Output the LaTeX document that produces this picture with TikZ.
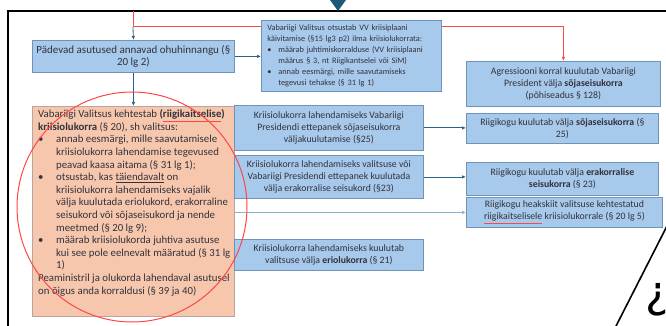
\documentclass[tikz,border=0pt]{standalone}
\usepackage{fontspec}
\setmainfont{Carlito}
\newfontfamily\djv{DejaVu Sans}
\usetikzlibrary{arrows.meta}
\definecolor{boxblue}{RGB}{167,201,235}
\definecolor{boxborder}{RGB}{110,148,186}
\definecolor{boxorange}{RGB}{247,199,173}
\definecolor{oborder}{RGB}{185,165,160}
\definecolor{arrteal}{RGB}{40,100,135}
\definecolor{lightteal}{RGB}{140,180,205}
\definecolor{redline}{RGB}{255,70,70}
\definecolor{txt}{RGB}{50,50,60}
\definecolor{tri}{RGB}{30,90,120}
\newcommand{\redul}[1]{\textcolor{redline}{\underline{\textcolor{txt}{#1}}}}
\newcommand{\bul}[1]{\makebox[#1][l]{•}}
\begin{document}
\begin{tikzpicture}[x=1pt,y=-1pt,
  bbox/.style={draw=boxborder, fill=boxblue, line width=0.8pt, text=txt, inner sep=0pt, align=center, anchor=north west},
  obox/.style={draw=oborder, fill=boxorange, line width=0.8pt, inner sep=0pt, anchor=north west},
  arr/.style={draw=arrteal, line width=0.8pt, -{Latex[length=4pt,width=3.5pt]}},
  arrl/.style={draw=lightteal, line width=1pt, -{Latex[length=4pt,width=3.5pt,fill=arrteal]}},
  redl/.style={draw=redline, line width=1pt},
  fmid/.style={font=\fontsize{9.8}{12}\selectfont}
]
\useasboundingbox (0,0) rectangle (666,326);
\clip (0,0) rectangle (666,326);
\fill[white] (0,0) rectangle (666,326);

% frame and top marker
\draw[line width=2pt] (8,330) -- (8,11) -- (670,11);
\fill[tri] (330,0) -- (346,0) -- (338,11) -- cycle;

% boxes
\node[bbox, minimum width=202, minimum height=32, font=\fontsize{11}{12}\selectfont] (pad) at (32,40)
  {Pädevad asutused annavad ohuhinnangu (§\\20 lg 2)};

\node[bbox, align=left, text width=168, inner xsep=6, minimum height=71, font=\fontsize{8.3}{10.9}\selectfont] (vv) at (261,20)
  {Vabariigi Valitsus otsustab VV kriisiplaani\\
   käivitamise (§15 lg3 p2) ilma kriisiolukorrata:\\
   \bul{11pt}määrab juhtimiskorralduse (VV kriisiplaani\\
   \hspace*{11pt}määrus § 3, nt Riigikantselei või SiM)\\
   \bul{11pt}annab eesmärgi, mille saavutamiseks\\
   \hspace*{11pt}tegevusi tehakse (§ 31 lg 1)};

\node[bbox, minimum width=194, minimum height=45, font=\fontsize{9.8}{12}\selectfont] (agg) at (466,61)
  {Agressiooni korral kuulutab Vabariigi\\
   President välja \textbf{sõjaseisukorra}\\
   (põhiseadus § 128)};

\node[obox, minimum width=202, minimum height=210] (ora) at (32,106) {};
\node[anchor=north west, align=left, inner xsep=6, inner ysep=3.5, text=txt, font=\fontsize{10.8}{12.6}\selectfont] (oratext) at (ora.north west)
  {Vabariigi Valitsus kehtestab \textbf{(\redul{riigikaitselise})}\\
   \textbf{kriisiolukorra} (§ 20), sh valitsus:\\
   \bul{18pt}annab eesmärgi, mille saavutamisele\\
   \hspace*{18pt}kriisiolukorra lahendamise tegevused\\
   \hspace*{18pt}peavad kaasa aitama (§ 31 lg 1);\\
   \bul{18pt}otsustab, kas \underline{täiendavalt} on\\
   \hspace*{18pt}kriisiolukorra lahendamiseks vajalik\\
   \hspace*{18pt}välja kuulutada eriolukord, erakorraline\\
   \hspace*{18pt}seisukord või sõjaseisukord ja nende\\
   \hspace*{18pt}meetmed (§ 20 lg 9);\\
   \bul{18pt}määrab kriisiolukorda juhtiva asutuse\\
   \hspace*{18pt}kui see pole eelnevalt määratud (§ 31 lg\\
   \hspace*{18pt}1)\\
   Peaministril ja olukorda lahendaval asutusel\\
   on õigus anda korraldusi (§ 39 ja 40)};

\node[bbox, fmid, minimum width=189, minimum height=45] (m1) at (234,105)
  {Kriisiolukorra lahendamiseks Vabariigi\\
   Presidendi ettepanek sõjaseisukorra\\
   väljakuulutamise (§25)};
\node[bbox, fmid, minimum width=189, minimum height=43] (m2) at (234,155)
  {Kriisiolukorra lahendamiseks valitsuse või\\
   Vabariigi Presidendi ettepanek kuulutada\\
   välja erakorralise seisukord (§23)};
\node[bbox, fmid, minimum width=189, minimum height=31] (m3) at (234,239)
  {Kriisiolukorra lahendamiseks kuulutab\\
   valitsuse välja \textbf{eriolukorra} (§ 21)};

\node[bbox, fmid, minimum width=192, minimum height=30] (r1) at (466,113)
  {Riigikogu kuulutab välja \textbf{sõjaseisukorra} (§\\25)};
\node[bbox, fmid, minimum width=192, minimum height=33] (r2) at (466,162)
  {Riigikogu kuulutab välja \textbf{erakorralise}\\
   \textbf{seisukorra} (§ 23)};
\node[bbox, fmid, minimum width=196, minimum height=30] (r3) at (466,197)
  {Riigikogu heakskiit valitsuse kehtestatud\\
   \redul{riigikaitselisele} kriisiolukorrale (§ 20 lg 5)};

% connectors
\coordinate (topred) at (133,11);
\coordinate (rj) at (133,27);
\draw[redl] (topred) -- (rj) -- (rj -| vv.west);
\draw[arr] (rj) -- (pad.north);
\draw[redl, -{Latex[length=4pt,width=3.5pt]}] (vv.east |- rj) -- (rj -| agg.north) -- (agg.north);
\draw[arr] (pad.east) -- (pad.east -| vv.west);
\draw[arr] (pad.south) -- (ora.north);
\draw[arr] (m1.east) -- (m1.east -| r1.west);
\draw[arr] (m2.east) -- (m2.east -| r2.west);
\draw[arrl] (ora.east |- r3.west) -- (r3.west);

% red circle
\draw[redl] (132,207) circle[radius=115];

% bottom-right scribble
\draw[line width=1.6pt] (614,330) -- (668,224);
\node[anchor=north west, inner sep=0pt, font=\djv\fontsize{44}{44}\selectfont] (qm) at (645,283) {¿};
\end{tikzpicture}
\end{document}
